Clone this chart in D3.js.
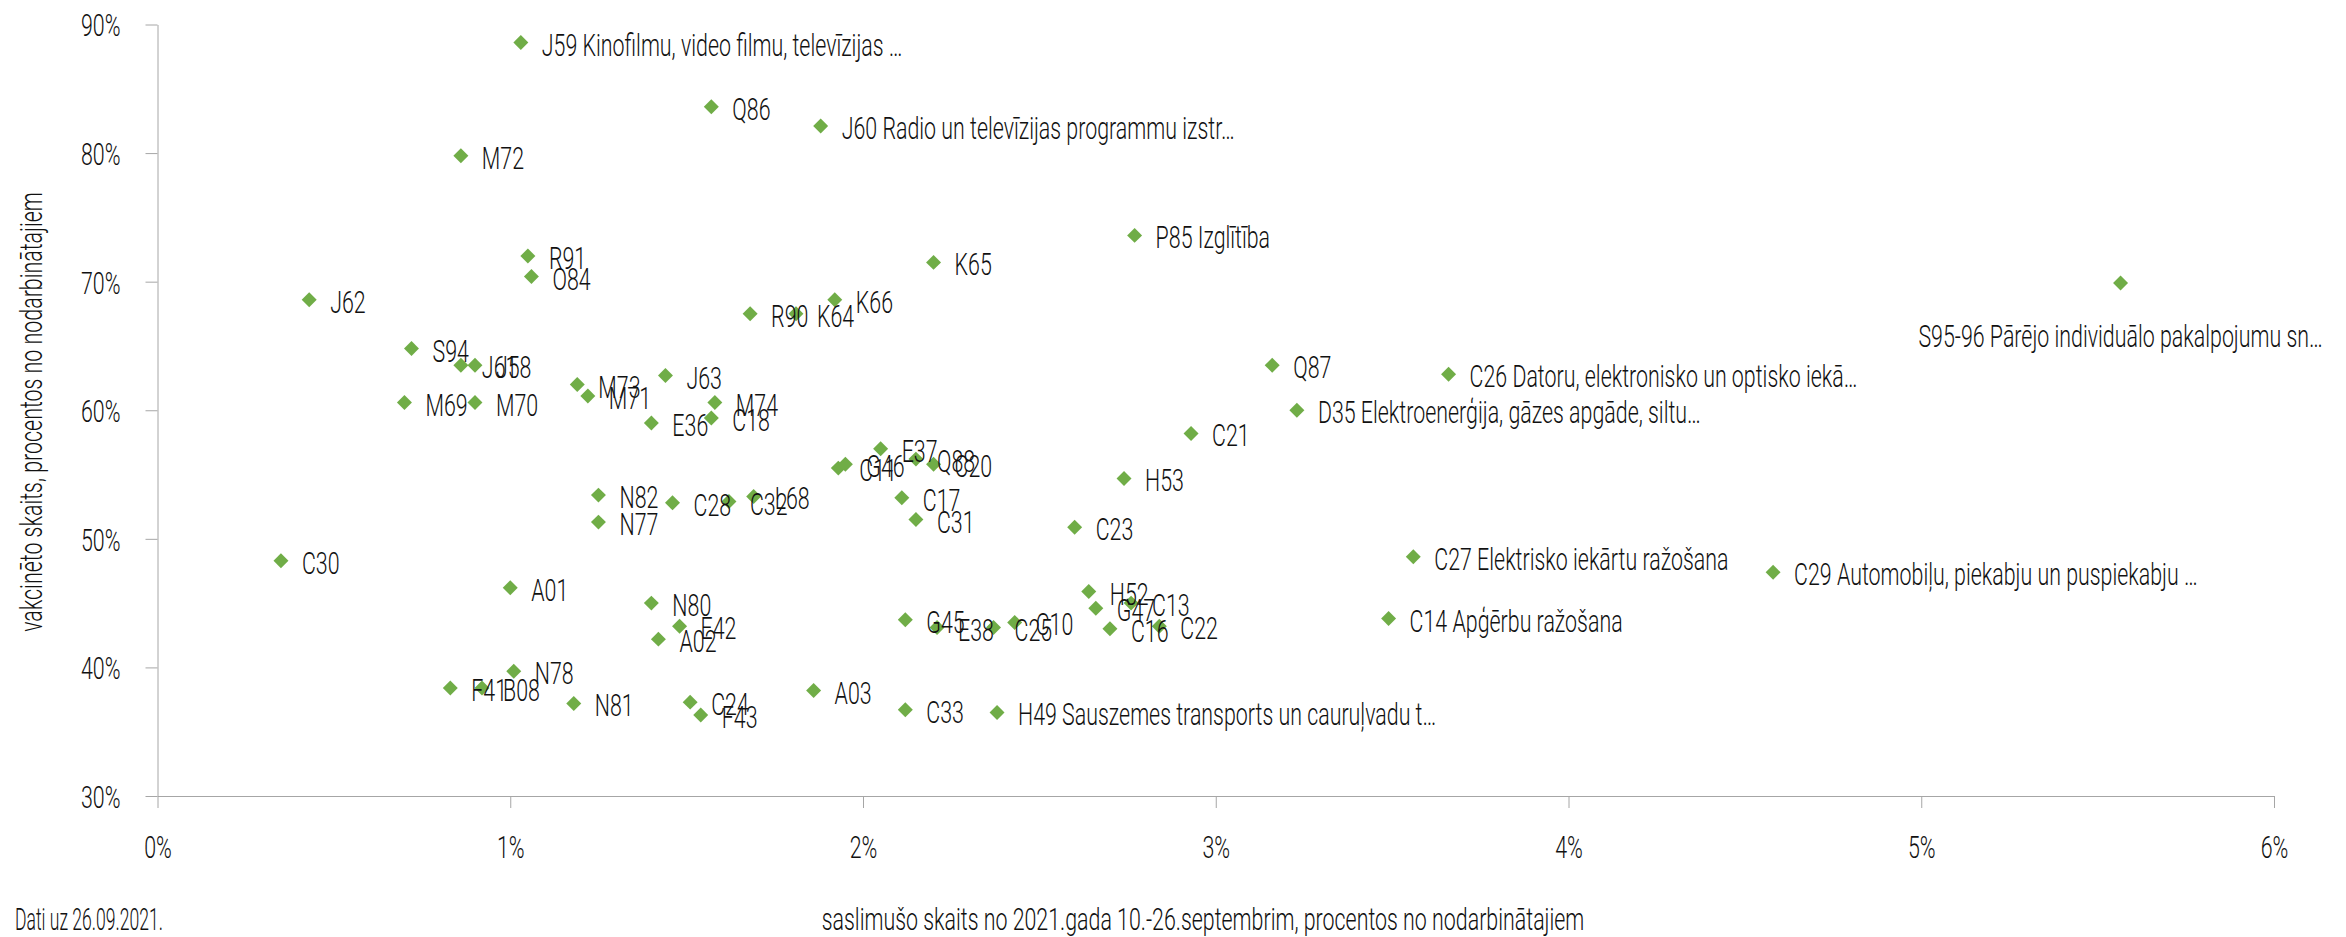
<!DOCTYPE html>
<html><head><meta charset="utf-8">
<script src="https://cdn.jsdelivr.net/npm/d3@7"></script>
<style>
html,body{margin:0;padding:0;background:#fff;}
svg{display:block;}
text{font-family:Roboto,"Noto Sans",sans-serif;font-weight:300;fill:#111;}
</style></head><body>
<svg id="chart" width="2346" height="937"></svg>
<script>
// ---- data ----
const labels = ["J59 Kinofilmu, video filmu, televīzijas …","Q86","J60 Radio un televīzijas programmu izstr…","M72","P85 Izglītība","R91","O84","K65","K66","J62","R90","K64","S95-96 Pārējo individuālo pakalpojumu sn…","S94","J61","J58","Q87","C26 Datoru, elektronisko un optisko iekā…","M73","J63","M71","M69","M70","M74","E36","C18","D35 Elektroenerģija, gāzes apgāde, siltu…","C21","E37","C11","G46","Q88","C20","H53","N82","C28","C32","L68","C17","N77","C31","C23","C30","C27 Elektrisko iekārtu ražošana","C29 Automobiļu, piekabju un puspiekabju …","A01","H52","N80","G47","C13","G45","E38","C25","C10","C16","C22","C14 Apģērbu ražošana","E42","A02","N78","F41","B08","N81","C24","F43","A03","C33","H49 Sauszemes transports un cauruļvadu t…"];
const xValues = [1.03,1.57,1.88,0.86,2.77,1.05,1.06,2.20,1.92,0.43,1.68,1.81,5.565,0.72,0.86,0.90,3.16,3.66,1.19,1.44,1.22,0.70,0.90,1.58,1.40,1.57,3.23,2.93,2.05,1.93,1.95,2.15,2.20,2.74,1.25,1.46,1.62,1.69,2.11,1.25,2.15,2.60,0.35,3.56,4.58,1.00,2.64,1.40,2.66,2.76,2.12,2.21,2.37,2.43,2.70,2.84,3.49,1.48,1.42,1.01,0.83,0.92,1.18,1.51,1.54,1.86,2.12,2.38];
const yValues = [88.6,83.6,82.1,79.8,73.6,72.0,70.4,71.5,68.6,68.6,67.5,67.5,69.9,64.8,63.5,63.5,63.5,62.8,62.0,62.7,61.1,60.6,60.6,60.6,59.0,59.4,60.0,58.2,57.0,55.5,55.8,56.2,55.8,54.7,53.4,52.8,52.9,53.3,53.2,51.3,51.5,50.9,48.3,48.6,47.4,46.2,45.9,45.0,44.6,45.0,43.7,43.1,43.1,43.5,43.0,43.2,43.8,43.2,42.2,39.7,38.4,38.4,37.2,37.3,36.3,38.2,36.7,36.5];
const xTickValues = [0,1,2,3,4,5,6];
const xTickLabels = ["0%","1%","2%","3%","4%","5%","6%"];
const yTickValues = [30,40,50,60,70,80,90];
const yTickLabels = ["30%","40%","50%","60%","70%","80%","90%"];
const xTitle = "saslimušo skaits no 2021.gada 10.-26.septembrim, procentos no nodarbinātajiem";
const yTitle = "vakcinēto skaits, procentos no nodarbinātajiem";
const note = "Dati uz 26.09.2021.";

// ---- layout / style ----
const SX = 0.69, FS = 31;
const AXIS = "#A6A6A6", GREEN = "#70AD47", INK = "#111";
const plot = {left:157.5, right:2274, top:24.5, bottom:796};
const x = d3.scaleLinear().domain([0,6]).range([plot.left, plot.right]);
const y = d3.scaleLinear().domain([30,90]).range([plot.bottom, plot.top]);
const svg = d3.select("#chart");

// x axis
const gx = svg.append("g").attr("transform",`translate(0,${plot.bottom})`)
  .call(d3.axisBottom(x).tickValues(xTickValues)
    .tickFormat(d => xTickLabels[xTickValues.indexOf(d)])
    .tickSize(12).tickSizeOuter(0).tickPadding(28));
gx.attr("font-size",FS).attr("font-family",null);
gx.select(".domain").attr("stroke",AXIS);
gx.selectAll(".tick line").attr("stroke",AXIS);
gx.selectAll(".tick text").attr("fill",INK).attr("transform",`scale(${SX},1)`);

// y axis
const gy = svg.append("g").attr("transform",`translate(${plot.left},0)`)
  .call(d3.axisLeft(y).tickValues(yTickValues)
    .tickFormat(d => yTickLabels[yTickValues.indexOf(d)])
    .tickSize(12).tickSizeOuter(0).tickPadding(26));
gy.attr("font-size",FS).attr("font-family",null);
gy.select(".domain").attr("stroke",AXIS);
gy.selectAll(".tick line").attr("stroke",AXIS);
gy.selectAll(".tick text").attr("fill",INK)
  .attr("x",-37/SX).attr("dy","0.37em").attr("transform",`scale(${SX},1)`);

// points
const pts = labels.map((l,i)=>({label:l, x:xValues[i], y:yValues[i]}));
const sym = d3.symbol().type(d3.symbolSquare).size(112);
svg.append("g").selectAll("path").data(pts).join("path")
  .attr("d",sym).attr("fill",GREEN)
  .attr("transform",d=>`translate(${x(d.x)},${y(d.y)}) rotate(45)`);

// labels (to the right of the marker; below it, centred, when they would leave the plot)
const lg = svg.append("g").attr("font-size",FS);
lg.selectAll("text").data(pts).join("text")
  .text(d=>d.label)
  .each(function(d){
    const t = d3.select(this);
    const w = this.getComputedTextLength()*SX;
    const px = x(d.x), py = y(d.y);
    if (px + 21 + w > plot.right) {
      t.attr("text-anchor","middle")
       .attr("transform",`translate(${px},${py+64}) scale(${SX},1)`);
    } else {
      t.attr("transform",`translate(${px+21},${py}) scale(${SX},1)`).attr("dy","0.42em");
    }
  });

// titles
svg.append("text").attr("font-size",FS).attr("text-anchor","middle")
  .attr("transform",`translate(1203,930) scale(${SX},1)`).text(xTitle);
svg.append("text").attr("font-size",FS).attr("text-anchor","middle")
  .attr("transform",`translate(42,412) rotate(-90) scale(${SX},1)`).text(yTitle);
const nt = svg.append("text").attr("font-size",FS).text(note);
const noteSX = 148 / nt.node().getComputedTextLength();
nt.attr("transform",`translate(15,930) scale(${noteSX},1)`);
</script>
</body></html>
